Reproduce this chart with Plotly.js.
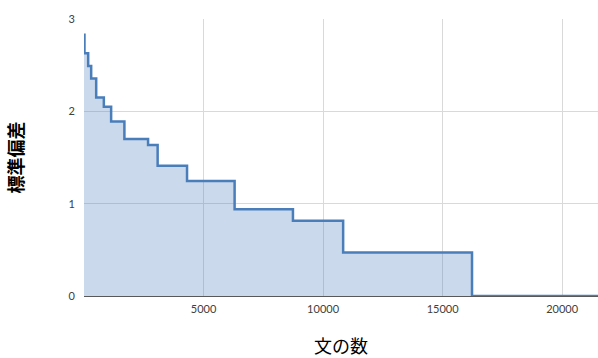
<!DOCTYPE html>
<html>
<head>
<meta charset="utf-8">
<script src="https://cdn.plot.ly/plotly-3.0.1.min.js"></script>
<style>html,body{margin:0;padding:0;background:#fff;}#chart{width:598px;height:358px;}</style>
</head>
<body>
<div id="chart"></div>
<script>
// Step data: each standard-deviation level starts at the given sentence count (hv steps)
const sentenceCounts = [0, 20, 175, 300, 510, 830, 1135, 1690, 2680, 3080, 4310, 6300, 8740, 10840, 16230, 21500];
const stdDevs = [2.83, 2.63, 2.49, 2.355, 2.15, 2.05, 1.89, 1.70, 1.635, 1.41, 1.245, 0.94, 0.815, 0.47, 0, 0];
const xTicks = [5000, 10000, 15000, 20000];
const yTicks = [0, 1, 2, 3];

const trace = {
  x: sentenceCounts,
  y: stdDevs,
  type: 'scatter',
  mode: 'lines',
  line: {shape: 'hv', color: '#4a7ebb', width: 2.5},
  fill: 'tozeroy',
  fillcolor: 'rgba(79,129,189,0.3)',
  hoverinfo: 'skip'
};

const layout = {
  width: 598, height: 358,
  margin: {l: 83.5, r: 0, t: 19, b: 62},
  paper_bgcolor: '#fff', plot_bgcolor: '#fff',
  showlegend: false,
  font: {family: 'Lato, "Open Sans", sans-serif', color: '#404040', size: 11},
  xaxis: {
    range: [0, 21500],
    tickvals: xTicks,
    ticktext: xTicks.map(String),
    showgrid: true, gridcolor: '#d9d9d9', gridwidth: 1,
    zeroline: false,
    showline: true, linecolor: '#595959', linewidth: 1.3,
    ticks: 'outside', ticklen: 2, tickcolor: 'rgba(0,0,0,0)',
    tickfont: {size: 11, color: '#404040'},
    title: {text: '文の数', font: {family: '"Noto Sans CJK JP", sans-serif', size: 18, color: '#000'}, standoff: 31}
  },
  yaxis: {
    range: [0, 3],
    tickvals: yTicks,
    ticktext: yTicks.map(String),
    showgrid: true, gridcolor: '#d9d9d9', gridwidth: 1,
    zeroline: false,
    showline: false,
    ticks: 'outside', ticklen: 6, tickcolor: 'rgba(0,0,0,0)',
    tickfont: {size: 11, color: '#404040'},
    title: {text: '標準偏差', font: {family: '"Noto Sans CJK JP", sans-serif', size: 18, color: '#000', weight: 'bold'}, standoff: 40}
  }
};

Plotly.newPlot('chart', [trace], layout, {displayModeBar: false, staticPlot: true});
</script>
</body>
</html>
